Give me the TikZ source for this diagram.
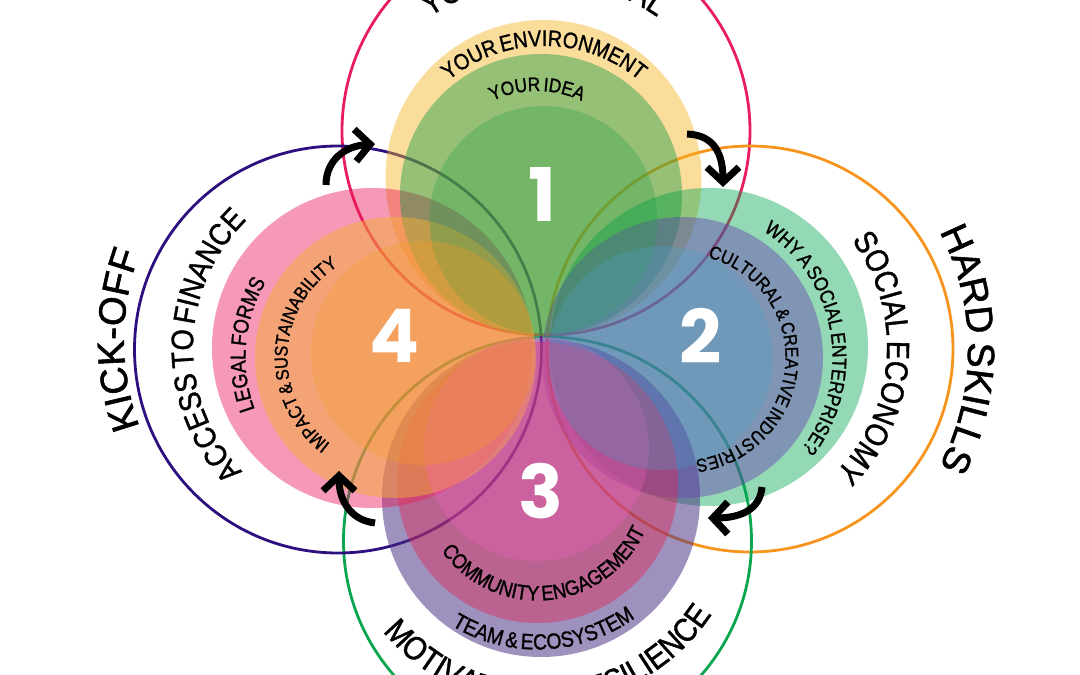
\documentclass[tikz,border=0pt]{standalone}
\usepackage{fontspec}
\usetikzlibrary{decorations.text,arrows.meta}
\newfontfamily\popfont{Liberation Sans}[FakeStretch=0.88,FakeBold=1.2,WordSpace=0.6]
\newfontfamily\bigfont{Liberation Sans}[FakeBold=1.5,WordSpace=0.7]
\newfontfamily\numfont{Poppins Bold}
\definecolor{lineRed}{RGB}{231,29,94}
\definecolor{lineOrange}{RGB}{247,148,29}
\definecolor{lineGreen}{RGB}{10,166,79}
\definecolor{linePurple}{RGB}{46,15,127}
\definecolor{paleTop}{RGB}{246,179,35}
\definecolor{paleRight}{RGB}{0,166,81}
\definecolor{paleBottom}{RGB}{72,45,130}
\definecolor{paleLeft}{RGB}{236,20,90}
\definecolor{midTop}{RGB}{0,150,60}
\definecolor{midRight}{RGB}{102,68,178}
\definecolor{midBottom}{RGB}{220,45,90}
\definecolor{midLeft}{RGB}{243,174,57}
\definecolor{inTop}{RGB}{37,161,73}
\definecolor{inRight}{RGB}{77,159,200}
\definecolor{inBottom}{RGB}{255,95,200}
\definecolor{inLeft}{RGB}{244,155,37}
\newcommand{\blob}[5]{\fill[#4,fill opacity=#5] (#1,-#2) circle[radius=#3pt];}
\newcommand{\ring}[4]{\draw[#4,line width=2.8pt] (#1,-#2) circle[radius=#3pt];}
% cx cy r start end size text
\newcommand{\arctext}[7]{\path[decorate,decoration={text along path,text align=center,text={|\fontsize{#6}{#6}\selectfont\popfont|#7}}] (#1,-#2) ++(#4:#3pt) arc[start angle=#4,end angle=#5,radius=#3pt];}
\newcommand{\arcbig}[7]{\path[decorate,decoration={text along path,text align=center,text={|\fontsize{#6}{#6}\selectfont\bigfont|#7}}] (#1,-#2) ++(#4:#3pt) arc[start angle=#4,end angle=#5,radius=#3pt];}
\tikzset{
  bigarrow/.style={line width=7pt,black,-{Straight Barb[length=15pt,width=32pt,line width=7pt]}},
  bignum/.style={text=white,font=\fontsize{74}{74}\selectfont\numfont,anchor=center,inner sep=0pt}
}
\begin{document}
\begin{tikzpicture}[x=1pt,y=1pt]
\useasboundingbox (0,-675) rectangle (1080,0);
\clip (0,-675) rectangle (1080,0);
\fill[white] (0,-675) rectangle (1080,0);
% outline rings lie beneath the translucent fills
\ring{546}{131}{204}{lineRed}
\ring{750}{349}{203}{lineOrange}
\ring{547.5}{541}{204}{lineGreen}
\ring{338}{349.5}{203.5}{linePurple}
% pale discs
\blob{543.5}{178}{158}{paleTop}{.45}
\blob{709}{347}{159}{paleRight}{.42}
\blob{541}{498}{159}{paleBottom}{.52}
\blob{372}{348}{160}{paleLeft}{.43}
% middle discs
\blob{541}{195}{141}{midTop}{.4}
\blob{682.5}{357.5}{140.5}{midRight}{.45}
\blob{537.5}{482.5}{140.5}{midBottom}{.45}
\blob{395.5}{357.5}{140.5}{midLeft}{.5}
% inner discs
\blob{543.5}{220}{114}{inTop}{.3}
\blob{536.5}{448.5}{112.5}{inBottom}{.25}
\blob{661}{358}{112}{inRight}{.3}
\blob{423}{353}{112}{inLeft}{.3}
% curved texts
\arctext{543.5}{178}{197}{150}{30}{32}{YOUR POTENTIAL}
\arctext{544}{195}{149}{150}{30}{22.5}{YOUR ENVIRONMENT}
\arctext{537}{195}{104}{150}{30}{19.5}{YOUR IDEA}
\arctext{709}{347}{178}{56}{-64}{32}{SOCIAL ECONOMY}
\arcbig{714}{349}{254}{40}{-40}{38}{HARD SKILLS}
\arctext{682.5}{357.5}{150}{80}{-60}{20}{WHY A SOCIAL ENTERPRISE?}
\arctext{682.5}{357.5}{103}{86.5}{-93.5}{18.5}{CULTURAL {\&} CREATIVE INDUSTRIES}
\arctext{541}{501}{205}{213}{333}{33}{MOTIVATION {\&} RESILIENCE}
\arctext{537.5}{482.5}{167}{222.4}{322.4}{22}{TEAM {\&} ECOSYSTEM}
\arctext{537.5}{482.5}{118}{195.7}{355.7}{21}{COMMUNITY ENGAGEMENT}
\arcbig{372}{340}{248}{220}{140}{38}{KICK-OFF}
\arctext{372}{348}{179}{239}{119}{31}{ACCESS TO FINANCE}
\arctext{395.5}{357.5}{150}{205}{145}{21.5}{LEGAL FORMS}
\arctext{395.5}{357.5}{108}{247.5}{107.5}{18.5}{IMPACT {\&} SUSTAINABILITY}
% numerals
\node[bignum] (one) at (542,-194) {1};
\node[bignum] (two) at (701,-336) {2};
\node[bignum] (three) at (541,-491) {3};
\node[bignum] (four) at (395,-336) {4};
% arrows
\coordinate (a1s) at (326,-185); \coordinate (a1e) at (375,-144);
\coordinate (a2s) at (687,-134); \coordinate (a2e) at (723,-187);
\coordinate (a3s) at (762,-487); \coordinate (a3e) at (708,-518);
\coordinate (a4s) at (375,-523); \coordinate (a4e) at (339,-471);
\draw[bigarrow] (a1s) .. controls (326,-160) and (345,-146) .. (a1e);
\draw[bigarrow] (a2s) .. controls (715,-135) and (723,-155) .. (a2e);
\draw[bigarrow] (a3s) .. controls (760,-510) and (740,-518) .. (a3e);
\draw[bigarrow] (a4s) .. controls (350,-520) and (339,-500) .. (a4e);
\end{tikzpicture}
\end{document}
